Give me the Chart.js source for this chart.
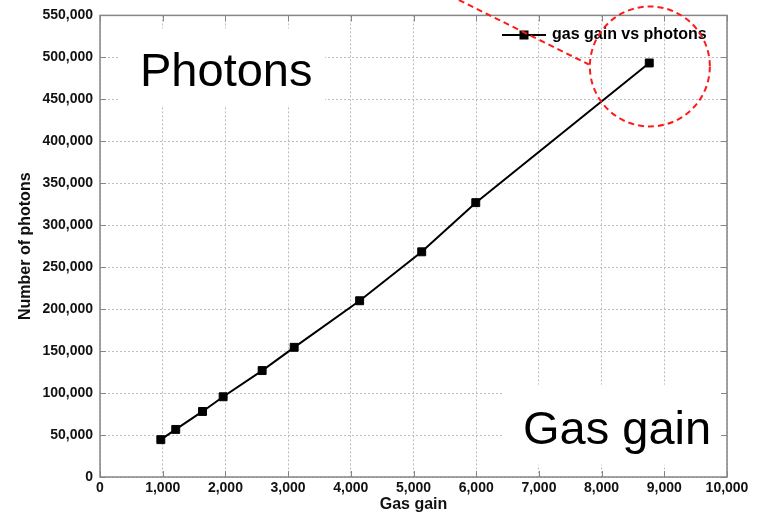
<!DOCTYPE html>
<html><head><meta charset="utf-8">
<script src="https://cdn.jsdelivr.net/npm/chart.js@4/dist/chart.umd.min.js"></script>
<style>html,body{margin:0;padding:0;background:#fff}#wrap{width:763px;height:518px;position:relative}</style>
</head><body><div id="wrap"><canvas id="c"></canvas></div>
<script>
// ---- data ----
const gasGain = [970, 1208, 1635, 1964, 2586, 3097, 4141, 5131, 5993, 8760];
const photons = [44500, 56700, 78100, 95600, 126800, 154500, 210000, 268300, 326900, 493300];
const seriesLabel = 'gas gain vs photons';
const xTitle = 'Gas gain';
const yTitle = 'Number of photons';
const xTickValues = [0, 1000, 2000, 3000, 4000, 5000, 6000, 7000, 8000, 9000, 10000];
const yTickValues = [0, 50000, 100000, 150000, 200000, 250000, 300000, 350000, 400000, 450000, 500000, 550000];
const notePhotons = 'Photons';
const noteGasGain = 'Gas gain';

const FONT = '"Liberation Sans", Arial, Helvetica, sans-serif';
const fmt = v => Number(v).toLocaleString('en-US');

const decor = {
  id: 'decor',
  beforeDatasetsDraw(chart) {
    const {ctx, chartArea: a, scales: {x, y}} = chart;
    ctx.save();
    // white boxes behind the big notes
    ctx.fillStyle = '#fff';
    ctx.fillRect(a.left + 18, a.top + 13, 207, 77);
    ctx.fillRect(a.left + 402, y.getPixelForValue(110000), a.right - (a.left + 402) - 1, 80);
    // frame
    ctx.strokeStyle = '#858585';
    ctx.lineWidth = 1.5;
    ctx.strokeRect(a.left, a.top, a.right - a.left, a.bottom - a.top);
    // mirrored inward ticks
    ctx.lineWidth = 1;
    ctx.strokeStyle = '#858585';
    ctx.beginPath();
    xTickValues.forEach(v => {
      const px = Math.round(x.getPixelForValue(v)) + 0.5;
      ctx.moveTo(px, a.bottom); ctx.lineTo(px, a.bottom - 6);
      ctx.moveTo(px, a.top); ctx.lineTo(px, a.top + 6);
    });
    yTickValues.forEach(v => {
      const py = Math.round(y.getPixelForValue(v)) + 0.5;
      ctx.moveTo(a.left, py); ctx.lineTo(a.left + 6, py);
      ctx.moveTo(a.right, py); ctx.lineTo(a.right - 6, py);
    });
    ctx.stroke();
    ctx.restore();
  },
  afterDatasetsDraw(chart) {
    const {ctx, chartArea: a} = chart;
    const meta = chart.getDatasetMeta(0);
    ctx.save();
    // big notes
    ctx.fillStyle = '#000';
    ctx.textBaseline = 'alphabetic';
    ctx.textAlign = 'left';
    ctx.font = '47px ' + FONT;
    ctx.fillText(notePhotons, a.left + 40, a.top + 71);
    ctx.fillText(noteGasGain, a.left + 423, a.top + 429);
    // legend
    const ly = 35, lx = 502;
    ctx.strokeStyle = '#000';
    ctx.lineWidth = 2;
    ctx.beginPath(); ctx.moveTo(lx, ly); ctx.lineTo(lx + 44, ly); ctx.stroke();
    ctx.fillRect(lx + 22 - 4.5, ly - 4.5, 9, 9);
    ctx.font = 'bold 16px ' + FONT;
    ctx.textBaseline = 'middle';
    ctx.fillText(seriesLabel, 552, ly);
    // red dashed annotation around the last point
    const last = meta.data[meta.data.length - 1];
    const cx = last.x + 0.6, cy = last.y + 3.5, r = 60;
    ctx.strokeStyle = '#ff1a1a';
    ctx.lineWidth = 2;
    ctx.setLineDash([6, 4]);
    ctx.beginPath(); ctx.arc(cx, cy, r, 0, Math.PI * 2); ctx.stroke();
    ctx.beginPath(); ctx.moveTo(cx - 191, 0); ctx.lineTo(cx - r - 1, cy - 2); ctx.stroke();
    ctx.restore();
  }
};

new Chart(document.getElementById('c'), {
  type: 'line',
  data: {
    datasets: [{
      label: seriesLabel,
      data: gasGain.map((g, i) => ({x: g, y: photons[i]})),
      borderColor: '#000',
      backgroundColor: '#000',
      borderWidth: 2,
      pointStyle: 'rect',
      pointRadius: 5.6,
      pointBorderWidth: 1,
      pointBorderColor: '#000',
      pointBackgroundColor: '#000',
      tension: 0,
      fill: false
    }]
  },
  options: {
    responsive: true,
    maintainAspectRatio: false,
    devicePixelRatio: 1,
    animation: false,
    layout: {padding: {left: 0, right: 36, top: 14, bottom: 0}},
    plugins: {legend: {display: false}, tooltip: {enabled: false}},
    scales: {
      x: {
        type: 'linear',
        position: 'bottom',
        min: xTickValues[0], max: xTickValues[xTickValues.length - 1],
        afterBuildTicks: s => { s.ticks = xTickValues.map(v => ({value: v})); },
        afterFit: s => { s.height = 41; },
        grid: {color: '#bdbdbd', lineWidth: 1, drawTicks: false},
        border: {display: false, dash: [2, 2]},
        ticks: {padding: 3, color: '#111', font: {family: FONT, size: 14, weight: 'bold'}, callback: v => fmt(v), maxRotation: 0, autoSkip: false},
        title: {display: true, text: xTitle, color: '#111', font: {family: FONT, size: 16, weight: 'bold'}, padding: {top: 0, bottom: 3.4}}
      },
      y: {
        type: 'linear',
        min: yTickValues[0], max: yTickValues[yTickValues.length - 1],
        afterBuildTicks: s => { s.ticks = yTickValues.map(v => ({value: v})); },
        afterFit: s => { s.width = 100; },
        grid: {color: '#bdbdbd', lineWidth: 1, drawTicks: false},
        border: {display: false, dash: [2, 2]},
        ticks: {padding: 7, color: '#111', font: {family: FONT, size: 14, weight: 'bold'}, callback: v => fmt(v), autoSkip: false},
        title: {display: true, text: yTitle, color: '#111', font: {family: FONT, size: 16, weight: 'bold'}, padding: {top: 16, bottom: 0}}
      }
    }
  },
  plugins: [decor]
});
</script></body></html>
